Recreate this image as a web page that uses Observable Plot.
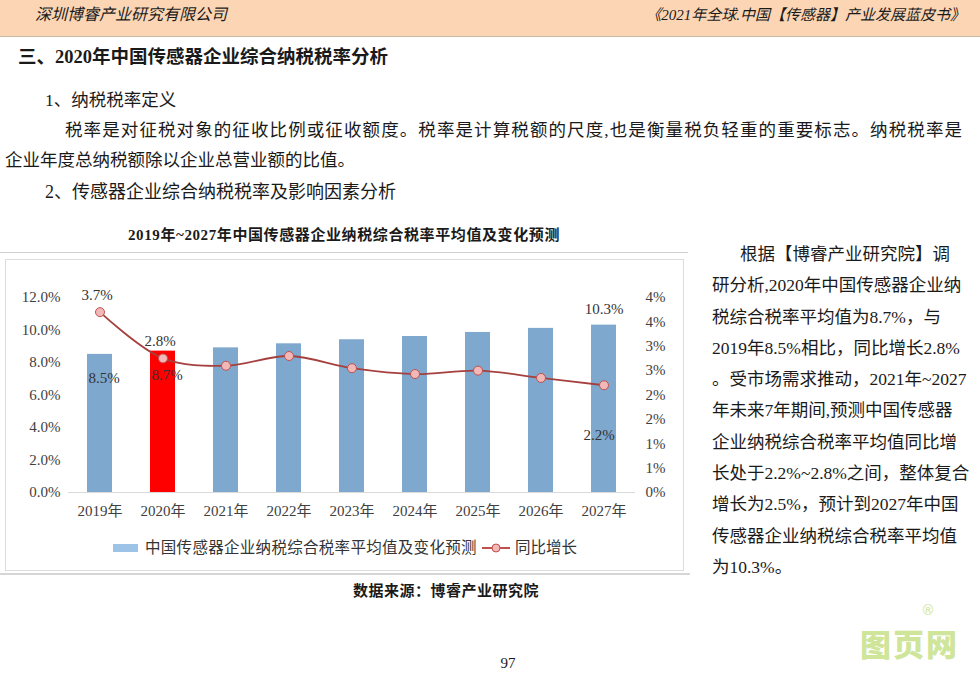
<!DOCTYPE html>
<html><head><meta charset="utf-8">
<script src="https://cdn.jsdelivr.net/npm/d3@7"></script>
<script src="https://cdn.jsdelivr.net/npm/@observablehq/plot@0.6"></script>
<style>
body{margin:0;width:980px;height:674px;position:relative;background:#fff;font-family:"Liberation Serif","Noto Sans CJK SC",serif;color:#1a1a1a;overflow:hidden}
.a{position:absolute;white-space:nowrap}
#chart{position:absolute;left:5px;top:260px}
</style></head><body>
<div class="a" style="left:0;top:0;width:980px;height:36px;background:#FCD5B4;border-bottom:1px solid #c8b8a8"></div>
<div class="a" style="left:35px;top:5px;font-size:16px;line-height:20px;font-style:italic">深圳博睿产业研究有限公司</div>
<div class="a" style="right:15px;top:5px;font-size:15px;line-height:20px;font-style:italic">《2021年全球.中国【传感器】产业发展蓝皮书》</div>

<div class="a" style="left:18px;top:46px;font-size:18.5px;line-height:22px;font-weight:bold">三、2020年中国传感器企业综合纳税税率分析</div>
<div class="a" style="left:45px;top:90px;font-size:17.5px;line-height:20px">1、纳税税率定义</div>
<div class="a" style="left:65px;top:120px;width:897px;font-size:17.5px;line-height:20px;text-align:justify;text-align-last:justify">税率是对征税对象的征收比例或征收额度。税率是计算税额的尺度,也是衡量税负轻重的重要标志。纳税税率是</div>
<div class="a" style="left:5px;top:150px;font-size:17.5px;line-height:20px">企业年度总纳税额除以企业总营业额的比值。</div>
<div class="a" style="left:45px;top:182px;font-size:18px;line-height:20px">2、传感器企业综合纳税税率及影响因素分析</div>

<div class="a" style="left:0;width:688px;top:226px;text-align:center;font-size:15px;line-height:18px;font-weight:bold;letter-spacing:0.6px">2019年~2027年中国传感器企业纳税综合税率平均值及变化预测</div>
<div class="a" style="left:0;top:252px;width:688px;height:1px;background:#cfcfcf"></div>
<div class="a" style="left:5px;top:259px;width:677px;height:310px;border:1px solid #dcdcdc"></div>
<div class="a" style="left:0;top:573px;width:690px;height:2px;background:#d6d6d6"></div>
<div id="chart"></div>

<div class="a" style="left:113px;top:544px;width:25px;height:8px;background:#9DC3E6"></div>
<div class="a" id="lg1" style="left:145px;top:538px;font-size:15.5px;line-height:20px;color:#333;letter-spacing:0.3px"></div>
<svg class="a" style="left:482px;top:541px" width="28" height="14"><line x1="0" y1="7" x2="28" y2="7" stroke="#C0504D" stroke-width="2"/><circle cx="14" cy="7" r="4" fill="#F2B8B7" stroke="#C0504D" stroke-width="1"/></svg>
<div class="a" id="lg2" style="left:515px;top:538px;font-size:15.5px;line-height:20px;color:#333"></div>

<div class="a" style="left:0;width:892px;top:581px;text-align:center;font-size:15px;line-height:20px;font-weight:bold;letter-spacing:0.5px">数据来源：博睿产业研究院</div>

<div class="a" style="left:712px;top:239px;font-size:17.5px;line-height:31.3px">
<span style="padding-left:28px">根据【博睿产业研究院】调</span><br>研分析,2020年中国传感器企业纳<br>税综合税率平均值为8.7%，与<br>2019年8.5%相比，同比增长2.8%<br>。受市场需求推动，2021年~2027<br>年未来7年期间,预测中国传感器<br>企业纳税综合税率平均值同比增<br>长处于2.2%~2.8%之间，整体复合<br>增长为2.5%，预计到2027年中国<br>传感器企业纳税综合税率平均值<br>为10.3%。</div>

<div class="a" style="left:860px;top:625px;font-family:'Noto Sans CJK SC';font-weight:900;font-size:31px;line-height:36px;color:#CFE59A;letter-spacing:2px">图页网</div>
<div class="a" style="left:921px;top:604px;font-family:'DejaVu Sans';font-size:14px;line-height:12px;color:#CFE59A">®</div>
<div class="a" style="left:0;width:1016px;top:654px;text-align:center;font-size:15px;line-height:18px">97</div>

<script>
const years = ["2019年","2020年","2021年","2022年","2023年","2024年","2025年","2026年","2027年"];
const avgRate = [8.5, 8.7, 8.9, 9.15, 9.4, 9.6, 9.85, 10.1, 10.3];
const yoyGrowth = [3.7, 2.75, 2.6, 2.8, 2.55, 2.43, 2.5, 2.35, 2.2];
const seriesNames = ["中国传感器企业纳税综合税率平均值及变化预测", "同比增长"];
const highlightYear = "2020年";
const leftTicks = [0, 2, 4, 6, 8, 10, 12];
const rightTicks = [0, 0.5, 1, 1.5, 2, 2.5, 3, 3.5, 4];
const barInsideLabelYears = ["2019年", "2020年"];
const barTopLabelYears = ["2027年"];
const lineAboveLabelYears = ["2019年", "2020年"];
const lineBelowLabelYears = ["2027年"];

document.getElementById("lg1").textContent = seriesNames[0];
document.getElementById("lg2").textContent = seriesNames[1];

const leftMax = leftTicks[leftTicks.length - 1];
const rightMax = rightTicks[rightTicks.length - 1];
const k = leftMax / rightMax;

const rows = years.map((y, i) => ({year: y, rate: avgRate[i], yoy: yoyGrowth[i], yoyS: yoyGrowth[i] * k}));
const pct1 = v => v.toFixed(1) + "%";
const font = "'Liberation Serif','Noto Sans CJK SC',serif";

const chart = Plot.plot({
  width: 678, height: 272,
  marginLeft: 63, marginRight: 48, marginTop: 37, marginBottom: 40,
  style: {fontFamily: font, fontSize: "15px", color: "#404040", background: "transparent"},
  x: {domain: years, paddingInner: 0.6, paddingOuter: 0.3, label: null},
  y: {domain: [0, leftMax], label: null},
  marks: [
    Plot.barY(rows, {x: "year", y: "rate", fill: d => d.year === highlightYear ? "#FF0000" : "#7EA8CE"}),
    Plot.ruleY([0], {stroke: "#d9d9d9", strokeWidth: 1}),
    Plot.axisY({ticks: leftTicks, tickFormat: pct1, tickSize: 0, tickPadding: 8, label: null, fontSize: 15, fill: "#404040"}),
    Plot.axisY({anchor: "right", ticks: rightTicks.map(t => t * k), tickFormat: d => Math.round(d / k + 1e-9) + "%", tickSize: 0, tickPadding: 10, label: null, fontSize: 15, fill: "#404040"}),
    Plot.axisX({tickSize: 0, tickPadding: 13, label: null, fontSize: 15, fill: "#404040"}),
    Plot.line(rows, {x: "year", y: "yoyS", stroke: "#A5403E", strokeWidth: 1.8, curve: "catmull-rom"}),
    Plot.dot(rows, {x: "year", y: "yoyS", r: 4.5, fill: "#F2B8B7", stroke: "#C0504D", strokeWidth: 1}),
    Plot.text(rows.filter(d => barInsideLabelYears.includes(d.year)), {x: "year", y: "rate", text: d => pct1(d.rate), dy: 24, dx: 4, fontSize: 15, fill: "#333"}),
    Plot.text(rows.filter(d => barTopLabelYears.includes(d.year)), {x: "year", y: "rate", text: d => pct1(d.rate), dy: -16, fontSize: 15, fill: "#333"}),
    Plot.text(rows.filter(d => lineAboveLabelYears.includes(d.year)), {x: "year", y: "yoyS", text: d => pct1(d.yoy), dy: -17, dx: -3, fontSize: 15, fill: "#333"}),
    Plot.text(rows.filter(d => lineBelowLabelYears.includes(d.year)), {x: "year", y: "yoyS", text: d => pct1(d.yoy), dy: 50, dx: -5, fontSize: 15, fill: "#333"})
  ]
});
document.getElementById("chart").appendChild(chart);
</script>
</body></html>
